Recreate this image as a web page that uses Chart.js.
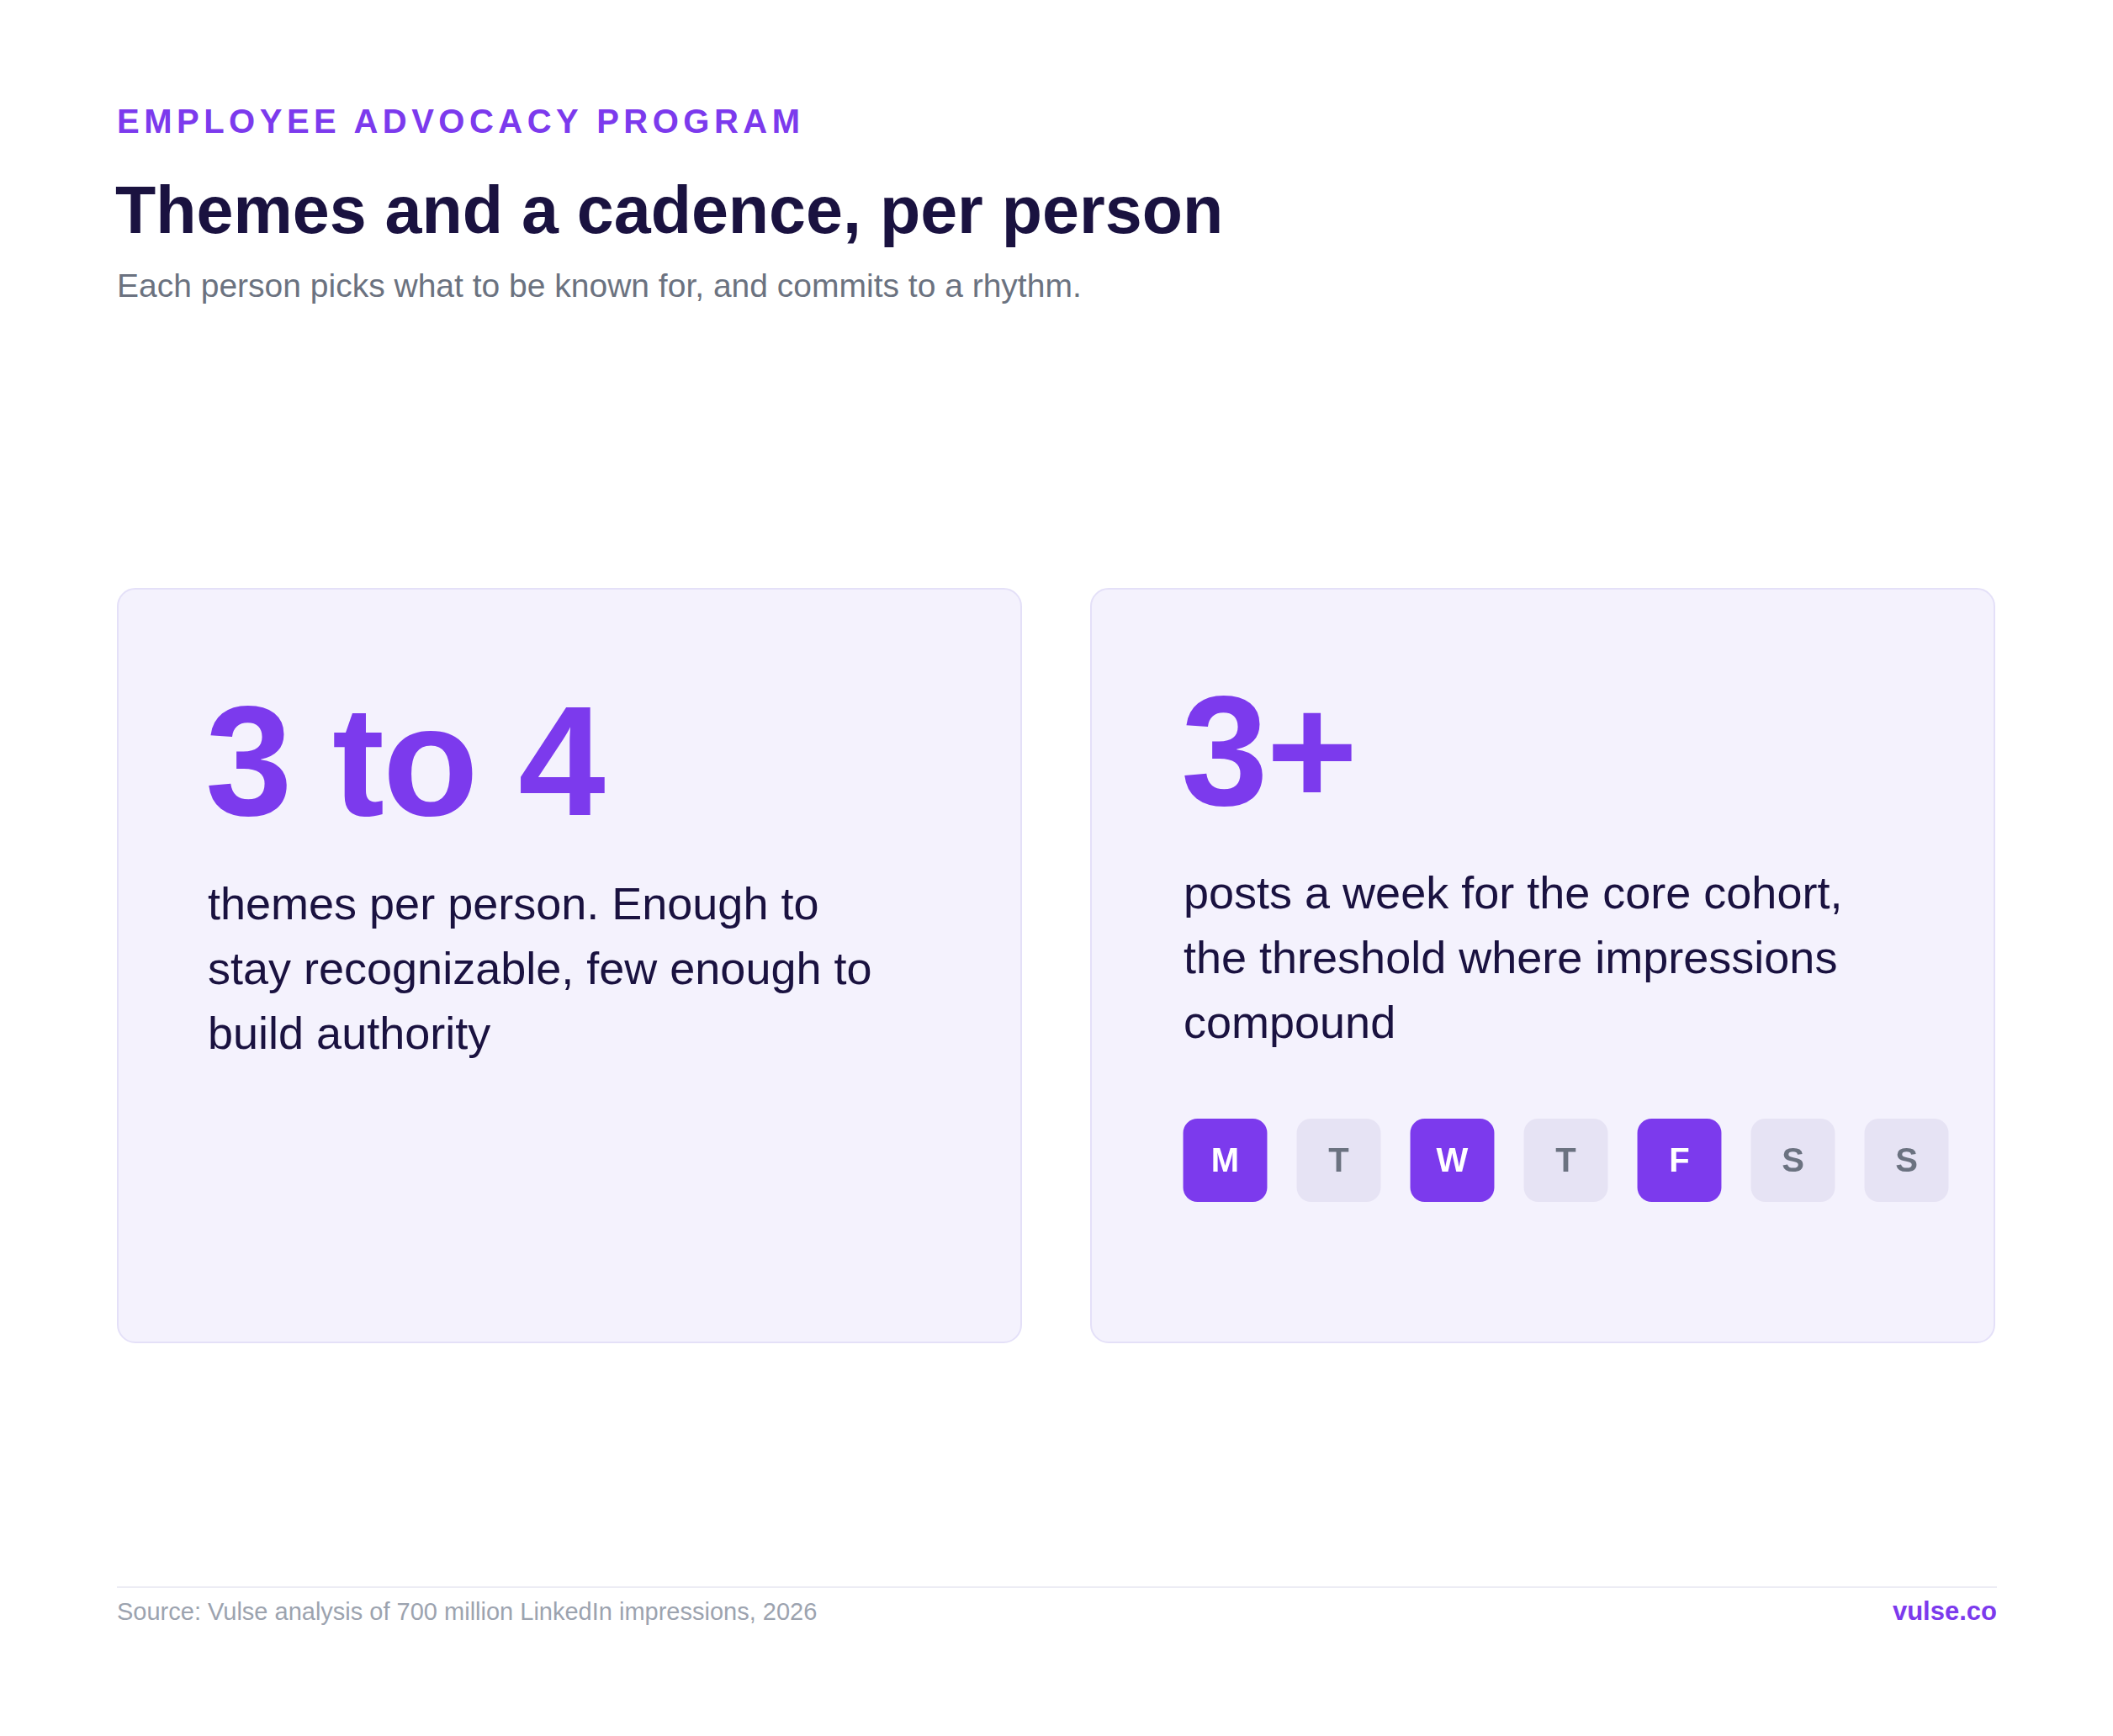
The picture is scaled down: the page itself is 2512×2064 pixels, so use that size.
<!DOCTYPE html>
<html><head><meta charset="utf-8">
<script src="https://cdn.jsdelivr.net/npm/chart.js@4"></script>
<style>
body{margin:0;width:2512px;height:2064px;background:#fff;font-family:"Liberation Sans",Arial,sans-serif;position:relative;overflow:hidden}
.abs{position:absolute;white-space:nowrap}
.card{position:absolute;top:699px;height:898px;width:1076px;background:#f4f2fd;border:2px solid #e4e0f8;border-radius:22px;box-sizing:border-box}
.big{position:absolute;font-weight:bold;color:#7c3aed;font-size:186px;line-height:1;letter-spacing:-2px}
.txt{position:absolute;color:#1a1240;font-size:54px;line-height:77px}
</style></head><body>
<div class="abs" style="left:139px;top:122px;font-size:40px;font-weight:bold;color:#7c3aed;letter-spacing:5.5px">EMPLOYEE ADVOCACY PROGRAM</div>
<div class="abs" style="left:137px;top:204px;font-size:79px;font-weight:bold;color:#1a1240">Themes and a cadence, per person</div>
<div class="abs" style="left:139px;top:318px;font-size:39px;color:#6b7280">Each person picks what to be known for, and commits to a rhythm.</div>

<div class="card" style="left:139px"></div>
<div class="card" style="left:1296px"></div>

<div class="big" style="left:244px;top:812px">3 to 4</div>
<div class="txt" style="left:247px;top:1036px">themes per person. Enough to<br>stay recognizable, few enough to<br>build authority</div>

<div class="big" style="left:1404px;top:800px">3+</div>
<div class="txt" style="left:1407px;top:1023px">posts a week for the core cohort,<br>the threshold where impressions<br>compound</div>

<div style="position:absolute;left:1389px;top:1330px;width:945px;height:99px"><canvas id="days"></canvas></div>

<div style="position:absolute;left:139px;top:1886px;width:2235px;height:2px;background:#ececf4"></div>
<div class="abs" style="left:139px;top:1900px;font-size:29px;color:#9ca3af">Source: Vulse analysis of 700 million LinkedIn impressions, 2026</div>
<div class="abs" style="right:138px;top:1898px;font-size:31px;font-weight:bold;color:#7c3aed">vulse.co</div>

<script>
const dayLabels=['M','T','W','T','F','S','S'];
const posted=[1,0,1,0,1,0,0];

const dayText={
  id:'dayText',
  afterDatasetsDraw(chart){
    const c=chart.ctx;
    const meta=chart.getDatasetMeta(0);
    c.save();
    c.font='bold 40px "Liberation Sans", Arial, sans-serif';
    c.textAlign='center';c.textBaseline='middle';
    meta.data.forEach((bar,i)=>{
      c.fillStyle=posted[i]?'#ffffff':'#6b7280';
      c.fillText(dayLabels[i],bar.x,(bar.y+bar.base)/2+2);
    });
    c.restore();
  }
};

new Chart(document.getElementById('days'),{
  type:'bar',
  data:{
    labels:dayLabels.map((d,i)=>d+i),
    datasets:[{
      data:posted.map(()=>[0,1]),
      backgroundColor:posted.map(p=>p?'#7c3aed':'#e6e3f4'),
      borderRadius:17,borderSkipped:false,
      categoryPercentage:1,barPercentage:0.74
    }]
  },
  options:{
    responsive:true,maintainAspectRatio:false,animation:false,devicePixelRatio:1,
    layout:{padding:0},
    plugins:{legend:{display:false},tooltip:{enabled:false}},
    scales:{
      x:{display:false,offset:true},
      y:{display:false,min:0,max:1}
    }
  },
  plugins:[dayText]
});
</script>
</body></html>
